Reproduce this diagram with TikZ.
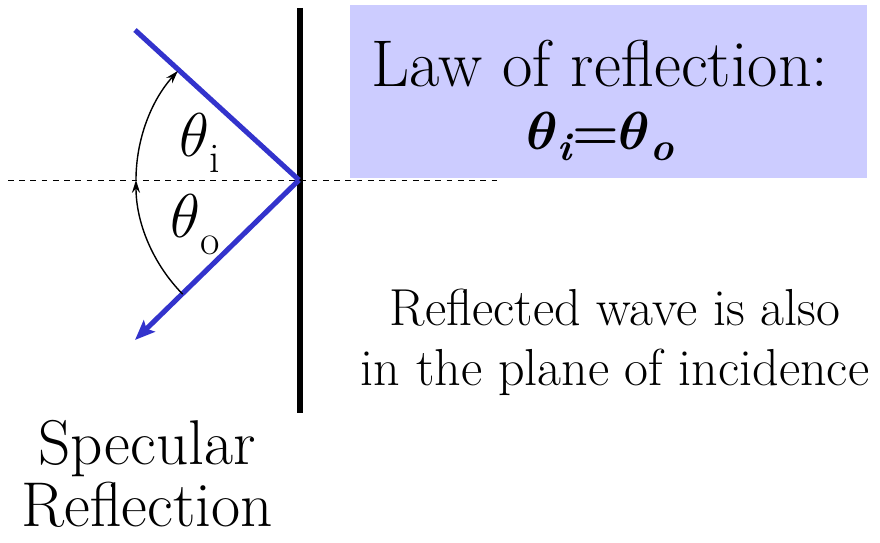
\RequirePackage{fix-cm}
\documentclass[tikz,border=0pt]{standalone}
\usepackage{amsmath}
\usepackage{bm}
\usetikzlibrary{arrows.meta,positioning}
\definecolor{raycol}{RGB}{51,51,204}
\definecolor{lawbox}{RGB}{204,204,255}

\begin{document}
\begin{tikzpicture}[x=0.025cm,y=0.025cm,
    ray/.style={line width=3.6pt,raycol},
    angarrow/.style={line width=1pt,-{Stealth[length=0.32cm,width=0.2cm]}},
    bigtext/.style={font=\fontsize{47}{50}\selectfont,inner sep=0pt},
    sidetext/.style={font=\fontsize{37}{42.7}\selectfont,align=center,inner sep=0pt},
    anglbl/.style={font=\fontsize{44}{44}\selectfont,inner sep=0pt}]
    \useasboundingbox (0,0) rectangle (880,542);
    \coordinate (O) at (299,362);
    \coordinate (A) at (135,512);
    \coordinate (B) at (135,202);
    \coordinate (Mt) at (300,534);
    \coordinate (Mb) at (300,129);
    \coordinate (Nl) at (8,362);
    \coordinate (Nr) at (497,362);
    \fill[lawbox] (350,364) rectangle (867,537);
    \draw[line width=0.7pt,dash pattern=on 4pt off 4pt] (Nl) -- (Nr);
    \draw[line width=3.6pt] (Mt) -- (Mb);
    \draw[ray] (A) -- (O);
    \draw[ray,-{Stealth[length=0.5cm,width=0.4cm,inset=0.1cm]}] (O) -- (B);
    \draw[angarrow] ([shift={(224.5:163)}]O) arc (224.5:180:163);
    \draw[angarrow] ([shift={(180:163)}]O) arc (180:138:163);
    \node[anglbl] (ti) at (200,399) {$\theta$\raisebox{-11pt}{\fontsize{30}{30}\selectfont i}};
    \node[anglbl] (to) at (195,317) {$\theta$\raisebox{-12pt}{\fontsize{30}{30}\selectfont o}};
    \node[bigtext] (law) at (600,478) {Law of reflection:};
    \node[bigtext,below=24 of law,font=\fontsize{38}{38}\selectfont\bfseries] (eq) {{\boldmath$\theta$}\raisebox{-8pt}{\fontsize{28}{28}\selectfont\itshape i}={\boldmath$\theta$}\raisebox{-8pt}{\fontsize{28}{28}\selectfont\itshape o}};
    \node[sidetext] (refl) at (615,200) {Reflected wave is also\\in the plane of incidence};
    \node[bigtext,align=center,font=\fontsize{45}{44}\selectfont] (spec) at (147,68) {Specular\\Reflection};
\end{tikzpicture}
\end{document}
